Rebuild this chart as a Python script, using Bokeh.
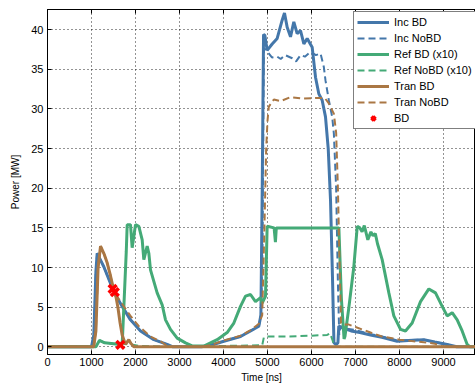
from bokeh.plotting import figure
from bokeh.models import LinearAxis, SingleIntervalTicker, Range1d, CustomJSTickFormatter
from bokeh.embed import file_html
from bokeh.resources import INLINE

# ---------------- data ----------------
inc_bd_t = [0, 1000, 1053, 1100, 1129, 1200, 1280, 1432, 1583, 1697,
            1886, 2114, 2417, 2720, 2850, 3500, 3705, 4008, 4386, 4614,
            4803, 4850, 4880, 4910, 4939, 4992, 5106, 5220, 5333, 5386,
            5447, 5523, 5598, 5674, 5750, 5826, 5902, 6015, 6091, 6167,
            6242, 6318, 6380, 6432, 6480, 6510, 6560, 6600, 6620, 6700,
            6900, 7100, 7341, 7600, 7947, 8200, 8553, 8800, 9083, 9300,
            10000]
inc_bd_p = [0, 0, 1.5, 9.5, 11.8, 11.0, 10.1, 8.0, 6.2, 5.1,
            3.4, 2.0, 0.9, 0.3, 0, 0, 0.2, 0.7, 1.3, 2.0,
            2.6, 4.0, 20, 39.4, 39.3, 37.4, 38.2, 38.9, 41.2, 42.1,
            40.3, 39.1, 41.0, 39.5, 39.9, 38.2, 38.9, 37.8, 34.0, 31.9,
            31.1, 29.0, 25, 18.5, 8, 0.5, 0.3, 0.5, 2.6, 2.4,
            2.0, 1.8, 1.5, 1.2, 0.7, 0.8, 0.9, 0.6, 0.3, 0,
            0]

inc_nobd_t = [0, 1000, 1053, 1100, 1129, 1200, 1280, 1432, 1583, 1697,
              1886, 2114, 2417, 2720, 2850, 3500, 3705, 4008, 4386, 4614,
              4803, 4850, 4885, 4917, 4960, 5000, 5100, 5220, 5300, 5400,
              5561, 5650, 5750, 5850, 5977, 6100, 6205, 6280, 6318, 6394,
              6470, 6508, 6560, 6600, 6630, 6660, 6800, 7000, 7341, 7600,
              7947, 8553, 8800, 9083, 9300, 10000]
inc_nobd_p = [0, 0, 1.5, 9.5, 11.8, 11.0, 10.1, 8.0, 6.2, 5.1,
              3.4, 2.0, 0.9, 0.3, 0, 0, 0.2, 0.7, 1.3, 2.0,
              2.6, 4.0, 12, 37.6, 37.5, 37.2, 36.5, 36.6, 36.3, 36.8,
              36.4, 36.0, 36.8, 36.6, 37.2, 36.8, 37.0, 35.3, 33.6, 31.1,
              29.0, 26.9, 20, 8, 1.5, 2.6, 2.3, 2.1, 1.6, 1.3,
              0.8, 0.9, 0.6, 0.3, 0, 0]

ref_bd_t = [0, 1100, 1180, 1300, 1500, 1650, 1700, 1735, 1790, 1811,
            1886, 1924, 2000, 2076, 2152, 2189, 2265, 2303, 2341, 2492,
            2606, 2682, 2795, 2947, 3136, 3300, 3553, 3856, 4083, 4235,
            4386, 4500, 4614, 4727, 4841, 4879, 4955, 4992, 5150, 5180,
            5200, 5220, 6000, 6622, 6680, 6740, 6760, 6850, 6960, 7040,
            7100, 7150, 7200, 7280, 7350, 7400, 7450, 7500, 7606, 7758,
            7871, 8023, 8136, 8288, 8477, 8667, 8818, 8970, 9083, 9197,
            9311, 9424, 9538, 9600, 10000]
ref_bd_p = [0, 0, 0.8, 0.5, 0.4, 0.3, 0.6, 5, 12, 15.4,
            15.4, 12.5, 15.4, 15.2, 13.5, 11.0, 12.7, 11.8, 9.7, 6.8,
            5.3, 3.4, 2.2, 1.1, 0.5, 0.1, 0.1, 0.9, 1.8, 3.0,
            5.1, 6.4, 6.6, 5.7, 6.2, 5.5, 6.4, 15.2, 15.0, 13.2,
            15.0, 15.0, 15.0, 15.0, 6, 1, 1.3, 5, 10, 15.2,
            15.0, 14.5, 15.3, 13.5, 14.5, 14.0, 14.3, 13.0, 11.0, 6.8,
            3.9, 2.2, 2.0, 3.0, 5.7, 7.3, 6.8, 5.1, 3.9, 4.3,
            3.4, 2.0, 0.3, 0, 0]

ref_nobd_t = [0, 1100, 1180, 1300, 1500, 1700, 1900, 2100, 3000, 4880,
              4917, 5000, 5500, 6000, 6356, 6420, 6480, 6520, 10000]
ref_nobd_p = [0, 0, 0.8, 0.5, 0.4, 0.4, 0.3, 0.1, 0, 0.2,
              1.2, 1.3, 1.3, 1.4, 1.5, 1.7, 0.8, 0, 0]

tran_bd_t = [0, 1050, 1100, 1150, 1205, 1280, 1356, 1430, 1508, 1560,
             1600, 1650, 1697, 1773, 1848, 1900, 1962, 10000]
tran_bd_p = [0, 0, 2, 10, 12.7, 11.8, 10.6, 9.0, 7.1, 6.2,
             5.0, 3.0, 1.5, 0.3, 0.9, 0.4, 0, 0]

tran_nobd_t = [0, 1050, 1100, 1150, 1205, 1280, 1356, 1430, 1508, 1600,
               1735, 1886, 2076, 2341, 2568, 2700, 2800, 3500, 3705, 4008,
               4386, 4614, 4803, 4880, 4930, 4970, 5000, 5030, 5144, 5300,
               5523, 5800, 6100, 6300, 6394, 6508, 6560, 6600, 6640, 6670,
               6700, 6850, 7000, 7341, 7600, 8000, 8500, 8800, 9000, 10000]
tran_nobd_p = [0, 0, 2, 10, 12.7, 11.8, 10.6, 9.0, 7.1, 6.2,
               5.1, 3.9, 2.6, 1.3, 0.7, 0.2, 0, 0, 0.2, 0.8,
               1.4, 2.1, 2.9, 4.0, 15, 25, 28.5, 30.3, 31.2, 31.0,
               31.5, 31.3, 31.4, 31.4, 30.7, 29.4, 27, 20, 10, 3,
               2.8, 2.8, 2.5, 1.8, 1.3, 0.9, 0.6, 0.4, 0, 0]

bd_t = [1480, 1530, 1655]
bd_p = [7.3, 6.9, 0.25]

# ---------------- styling ----------------
BLUE = "#4477AA"
GREEN = "#44AA77"
BROWN = "#AA7744"
FONT = "Liberation Sans"

p = figure(width=475, height=385, output_backend="svg", toolbar_location=None,
           x_range=Range1d(0, 9727), y_range=Range1d(-0.97, 42.55),
           min_border_left=47, min_border_right=0, min_border_top=9,
           min_border_bottom=0)

p.line(inc_bd_t, inc_bd_p, color=BLUE, line_width=3, legend_label="Inc BD")
p.line(inc_nobd_t, inc_nobd_p, color=BLUE, line_width=2, line_dash="7 4",
       legend_label="Inc NoBD")
p.line(ref_bd_t, ref_bd_p, color=GREEN, line_width=3, legend_label="Ref BD (x10)")
p.line(ref_nobd_t, ref_nobd_p, color=GREEN, line_width=2, line_dash="7 4",
       legend_label="Ref NoBD (x10)")
p.line(tran_bd_t, tran_bd_p, color=BROWN, line_width=3, legend_label="Tran BD")
p.line(tran_nobd_t, tran_nobd_p, color=BROWN, line_width=2, line_dash="7 4",
       legend_label="Tran NoBD")
p.scatter(bd_t, bd_p, marker="x", size=11, line_width=3.5, color="red",
          legend_label="BD")

# axes
p.xaxis.ticker = SingleIntervalTicker(interval=1000)
p.yaxis.ticker = SingleIntervalTicker(interval=5)
for ax in (p.xaxis[0], p.yaxis[0]):
    ax.major_tick_in = 4
    ax.major_tick_out = 0
    ax.minor_tick_in = 0
    ax.minor_tick_out = 0
    ax.axis_line_color = "black"
    ax.major_tick_line_color = "black"
    ax.major_label_text_font = FONT
    ax.major_label_text_font_size = "11px"
    ax.major_label_text_color = "black"
    ax.axis_label_text_font = FONT
    ax.axis_label_text_font_size = "10px"
    ax.axis_label_text_font_style = "normal"
    ax.axis_label_text_color = "black"
p.xaxis.axis_label = "Time [ns]"
p.yaxis.axis_label = "Power [MW]"
p.xaxis.major_label_standoff = 3
p.yaxis.major_label_standoff = 4
p.xaxis.axis_label_standoff = 3
p.yaxis.axis_label_standoff = 7

top = LinearAxis(ticker=SingleIntervalTicker(interval=1000),
                 formatter=CustomJSTickFormatter(code="return ''"),
                 major_label_standoff=0,
                 major_tick_in=4, major_tick_out=0, minor_tick_in=0,
                 minor_tick_out=0, axis_line_color="black")
p.add_layout(top, "above")

# grid
for g in (p.xgrid[0], p.ygrid[0]):
    g.grid_line_color = "black"
    g.grid_line_dash = "1 3"
    g.grid_line_alpha = 0.85
p.outline_line_color = "black"
p.background_fill_color = "white"
p.border_fill_color = "white"

# legend
lg = p.legend[0]
lg.location = (306, 225)
lg.label_text_font = FONT
lg.label_text_font_size = "11px"
lg.label_text_color = "black"
lg.glyph_width = 32
lg.glyph_height = 14
lg.label_height = 14
lg.spacing = 2
lg.padding = 3
lg.margin = 0
lg.label_standoff = 5
lg.border_line_color = "black"
lg.border_line_width = 1
lg.background_fill_alpha = 1.0

open("out.html", "w").write(file_html(p, INLINE))
